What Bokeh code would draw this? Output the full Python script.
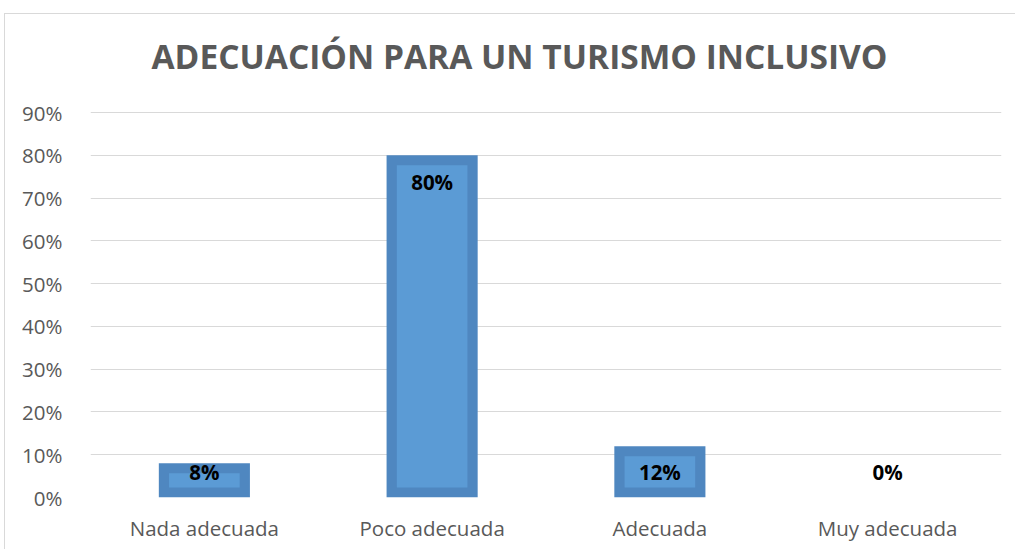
from bokeh.plotting import figure
from bokeh.models import FactorRange, Range1d, FixedTicker, ColumnDataSource, Label
from bokeh.core.properties import value
from bokeh.embed import file_html
from bokeh.resources import INLINE

categories = ["Nada adecuada", "Poco adecuada", "Adecuada", "Muy adecuada"]
values = [8, 80, 12, 0]
value_labels = ["8%", "80%", "12%", "0%"]
tick_values = [0, 10, 20, 30, 40, 50, 60, 70, 80, 90]
tick_labels = ["0%", "10%", "20%", "30%", "40%", "50%", "60%", "70%", "80%", "90%"]
title_text = "ADECUACIÓN PARA UN TURISMO INCLUSIVO"

FONT = "Open Sans"
GRAY = "#595959"

W, H = 1011, 536
FRAME_BOTTOM = 53
px_per_unit = 385 / 90.0                      # 385 px for 0..90 %
y_top = (H - FRAME_BOTTOM) / px_per_unit      # frame reaches the canvas top

p = figure(x_range=FactorRange(*categories, range_padding=0),
           y_range=Range1d(0, y_top),
           width=W, height=H, output_backend="svg", toolbar_location=None,
           min_border_left=85, min_border_right=15, min_border_top=0,
           min_border_bottom=FRAME_BOTTOM)
p.styles = {"position": "relative", "left": "4px", "top": "13px",
            "border-top": "1px solid #D9D9D9", "border-left": "1px solid #D9D9D9"}
p.outline_line_color = None
p.background_fill_color = "white"
p.border_fill_color = "white"

inset = 10 / px_per_unit

src = ColumnDataSource(dict(x=categories, top=values))
p.vbar(x="x", top="top", bottom=0, width=0.4, source=src,
       fill_color="#4F87C0", line_color=None)

inner_x = [c for c, v in zip(categories, values) if v > 2 * inset]
inner_top = [v - inset for v in values if v > 2 * inset]
p.vbar(x=inner_x, top=inner_top, bottom=inset, width=0.31,
       fill_color="#5B9BD5", line_color=None)

label_y = [max(v - 27 / px_per_unit, 26 / px_per_unit) for v in values]
p.text(x=categories, y=label_y, text=value_labels, text_align="center",
       text_baseline="middle", text_font=value(FONT), text_font_style="bold",
       text_font_size="20.5px", text_color="black")

# title drawn inside the (tall) frame
p.add_layout(Label(x=(519 - 90) / 227.75, y=(497 - 55) / px_per_unit,
                   text=title_text, text_align="center", text_baseline="middle",
                   text_font=FONT, text_font_style="bold",
                   text_font_size="33.5px", text_color=GRAY))

# axes
p.yaxis.ticker = FixedTicker(ticks=tick_values)
p.yaxis.major_label_overrides = {t: l for t, l in zip(tick_values, tick_labels)}
for ax in (p.xaxis, p.yaxis):
    ax.axis_line_color = None
    ax.major_tick_line_color = None
    ax.minor_tick_line_color = None
    ax.major_label_text_font = FONT
    ax.major_label_text_font_size = "20.5px"
    ax.major_label_text_color = GRAY
p.yaxis.major_label_standoff = 22
p.xaxis.major_label_standoff = 10

p.xgrid.grid_line_color = None
p.ygrid.grid_line_color = "#D9D9D9"
p.ygrid.grid_line_width = 1
p.ygrid.ticker = FixedTicker(ticks=tick_values)

open("out.html", "w").write(file_html(p, INLINE))
